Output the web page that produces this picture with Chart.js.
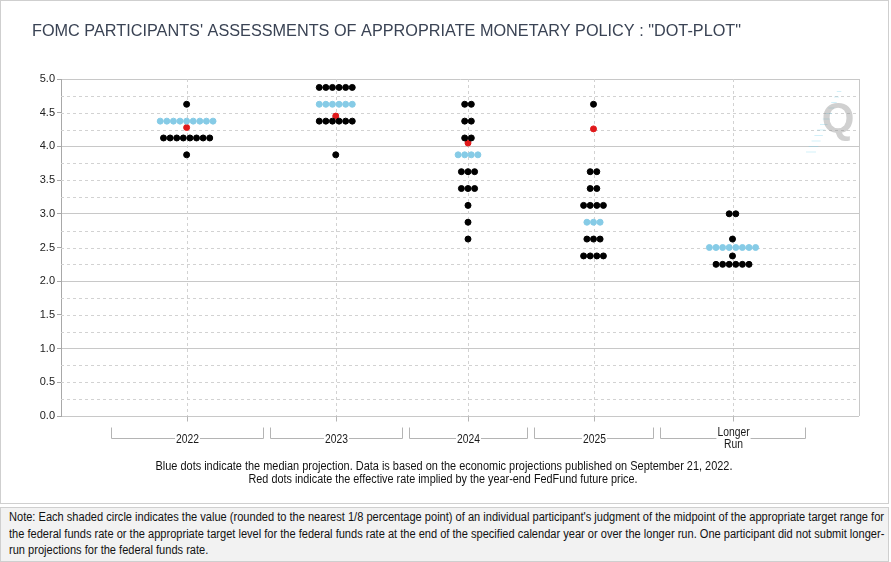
<!DOCTYPE html>
<html>
<head>
<meta charset="utf-8">
<script src="https://cdn.jsdelivr.net/npm/chart.js@4.4.0/dist/chart.umd.min.js"></script>
<style>
  body { margin: 0; background: #fff; width: 891px; height: 562px; overflow: hidden; position: relative; }
  #chart { position: absolute; left: 0; top: 0; }
  #note {
    position: absolute; left: 0; top: 507px; width: 887px; height: 52px;
    background: #f2f2f2; border: 1px solid #cfcfcf;
    font: 12px "Liberation Sans", Arial, sans-serif;
    color: #111; line-height: 16.5px; padding: 1px 0 0 0;
    white-space: nowrap; overflow: hidden;
  }
  #note span { display: block; width: max-content; transform-origin: 0 0; margin-left: 8px; }
</style>
</head>
<body>
<canvas id="chart" width="891" height="505"></canvas>
<div id="note"><span>Note: Each shaded circle indicates the value (rounded to the nearest 1/8 percentage point) of an individual participant's judgment of the midpoint of the appropriate target range for</span><span>the federal funds rate or the appropriate target level for the federal funds rate at the end of the specified calendar year or over the longer run. One participant did not submit longer-</span><span>run projections for the federal funds rate.</span></div>
<script>
// --- data ---
const categories = ['2022', '2023', '2024', '2025', 'Longer Run'];
const rates2022 = [4.625, 4.375, 4.125, 3.875];
const counts2022 = [1, 9, 8, 1];
const rates2023 = [4.875, 4.625, 4.375, 3.875];
const counts2023 = [6, 6, 6, 1];
const rates2024 = [4.625, 4.375, 4.125, 3.875, 3.625, 3.375, 3.125, 2.875, 2.625];
const counts2024 = [2, 2, 2, 4, 3, 3, 1, 1, 1];
const rates2025 = [4.625, 3.625, 3.375, 3.125, 2.875, 2.625, 2.375];
const counts2025 = [1, 2, 2, 4, 3, 3, 4];
const ratesLonger = [3.0, 2.625, 2.5, 2.375, 2.25];
const countsLonger = [2, 1, 8, 1, 6];
const medians = [4.375, 4.625, 3.875, 2.875, 2.5];
const futures = [4.28, 4.45, 4.05, 4.26, null];

const allRates = [rates2022, rates2023, rates2024, rates2025, ratesLonger];
const allCounts = [counts2022, counts2023, counts2024, counts2025, countsLonger];

// layout (x axis runs in plot pixels)
const X_MAX = 798;
const SLOT_START = 46, SLOT_BASE = 98.5, SLOT_STEP = 6.75, DOT_STEP = 6.6;
const SANS = '"Liberation Sans", Arial, sans-serif';

// squeeze the note to the narrow look of the original
const spans = document.querySelectorAll('#note span');
const squeeze = 875 / spans[0].getBoundingClientRect().width;
spans.forEach(s => { s.style.transform = 'scaleX(' + squeeze + ')'; });

// each column gets wider with its longest row of dots
const slots = [];
let pos = SLOT_START;
allCounts.forEach(c => {
  const w = SLOT_BASE + SLOT_STEP * Math.max(...c);
  slots.push({ from: pos, to: pos + w, centre: pos + w / 2 });
  pos += w;
});

const black = [], blue = [], red = [];
allRates.forEach((rates, c) => {
  rates.forEach((r, j) => {
    const n = allCounts[c][j];
    for (let k = 0; k < n; k++) {
      const pt = { x: slots[c].centre + (k - (n - 1) / 2) * DOT_STEP, y: r };
      (r === medians[c] ? blue : black).push(pt);
    }
  });
  if (futures[c] != null) red.push({ x: slots[c].centre, y: futures[c] });
});

const decor = {
  id: 'decor',
  beforeDatasetsDraw(chart) {
    const { ctx, chartArea: a, scales: { x, y } } = chart;
    ctx.save();
    ctx.strokeStyle = '#d2d2d2';
    ctx.lineWidth = 1;
    ctx.setLineDash([3, 3]);
    for (let v = 0.25; v < 5; v += 0.25) {
      if (Number.isInteger(v)) continue;
      const py = Math.round(y.getPixelForValue(v)) + 0.5;
      ctx.beginPath(); ctx.moveTo(a.left, py); ctx.lineTo(a.right, py); ctx.stroke();
    }
    slots.forEach(s => {
      const px = Math.round(x.getPixelForValue(s.centre)) + 0.5;
      ctx.beginPath(); ctx.moveTo(px, a.top); ctx.lineTo(px, a.bottom); ctx.stroke();
    });
    ctx.setLineDash([]);
    ctx.strokeStyle = '#c8c8c8';
    ctx.beginPath();
    ctx.moveTo(Math.round(a.right) + 0.5, a.top);
    ctx.lineTo(Math.round(a.right) + 0.5, a.bottom);
    ctx.stroke();
    ctx.restore();
  },
  afterDraw(chart) {
    const { ctx, chartArea: a, scales: { x } } = chart;
    ctx.save();
    // frame
    ctx.strokeStyle = '#cfcfcf';
    ctx.strokeRect(0.5, 0.5, 888, 503);
    // title
    ctx.fillStyle = '#3a4354';
    ctx.font = '16.3px ' + SANS;
    ctx.textBaseline = 'alphabetic';
    ctx.fillText('FOMC PARTICIPANTS\' ASSESSMENTS OF APPROPRIATE MONETARY POLICY : "DOT-PLOT"', 32, 36, 709);
    // x ticks and brackets
    const base = Math.round(a.bottom) + 0.5;
    ctx.strokeStyle = '#b4b4b4';
    ctx.lineWidth = 1;
    ctx.font = '12px ' + SANS;
    ctx.textAlign = 'center';
    ctx.textBaseline = 'middle';
    slots.forEach((s, i) => {
      const cx = Math.round(x.getPixelForValue(s.centre)) + 0.5;
      ctx.beginPath(); ctx.moveTo(cx, base); ctx.lineTo(cx, base + 5); ctx.stroke();
      const l = Math.round(x.getPixelForValue(s.from + 3.5)) + 0.5;
      const r = Math.round(x.getPixelForValue(s.to - 3.5)) + 0.5;
      const by = base + 22;
      ctx.beginPath();
      ctx.moveTo(l, by - 11); ctx.lineTo(l, by); ctx.lineTo(r, by); ctx.lineTo(r, by - 11);
      ctx.stroke();
      const lines = categories[i].split(' ');
      const tw = Math.max(...lines.map(t => ctx.measureText(t).width)) * 0.86;
      ctx.fillStyle = '#fff';
      ctx.fillRect(cx - tw / 2 - 1, by - 5, tw + 2, 10);
      ctx.fillStyle = '#1a1a1a';
      const fit = t => ctx.measureText(t).width * 0.86;
      if (lines.length === 1) {
        ctx.fillText(lines[0], cx, by + 1, fit(lines[0]));
      } else {
        ctx.fillText(lines[0], cx, by - 6, fit(lines[0]));
        ctx.fillText(lines[1], cx, by + 6, fit(lines[1]));
      }
    });
    // captions
    ctx.fillStyle = '#111';
    ctx.fillText('Blue dots indicate the median projection. Data is based on the economic projections published on September 21, 2022.', 444, 467, 577);
    ctx.fillText('Red dots indicate the effective rate implied by the year-end FedFund future price.', 443, 480, 389);
    // watermark
    ctx.globalAlpha = 0.35;
    ctx.strokeStyle = '#7fd3ee';
    for (let k = 0; k < 12; k++) {
      const yy = 152 - k * 5.5, xx = 806 + k * 2.8;
      ctx.beginPath(); ctx.moveTo(xx, yy); ctx.lineTo(xx + 10 - k * 0.5, yy); ctx.stroke();
    }
    ctx.globalAlpha = 0.4;
    ctx.fillStyle = '#8a8a8a';
    ctx.font = 'bold 42px ' + SANS;
    ctx.textAlign = 'center';
    ctx.fillText('Q', 838, 120);
    ctx.restore();
  }
};

const dot = (data, colour) => ({
  data,
  backgroundColor: colour,
  borderColor: colour,
  borderWidth: 1,
  pointRadius: 3,
  pointHoverRadius: 3
});

new Chart(document.getElementById('chart'), {
  type: 'scatter',
  data: { datasets: [dot(black, '#000'), dot(blue, '#86cbe6'), dot(red, '#e0191b')] },
  plugins: [decor],
  options: {
    responsive: false,
    animation: false,
    layout: { padding: { top: 79, right: 32, bottom: 89, left: 0 } },
    plugins: { legend: { display: false }, tooltip: { enabled: false } },
    scales: {
      x: { type: 'linear', min: 0, max: X_MAX, display: false },
      y: {
        min: 0, max: 5,
        afterFit: s => { s.width = 61; },
        afterBuildTicks: s => {
          s.ticks = [];
          for (let v = 0; v <= 5; v += 0.25) s.ticks.push({ value: v });
        },
        ticks: {
          autoSkip: false,
          padding: 2,
          color: '#222',
          font: { family: SANS, size: 11 },
          callback: v => (Number.isInteger(v * 2) ? v.toFixed(1) : '')
        },
        grid: {
          color: c => (Number.isInteger(c.tick.value) ? '#c8c8c8' : 'transparent'),
          tickColor: c => (Number.isInteger(c.tick.value * 2) ? '#a8a8a8' : 'transparent'),
          tickLength: 4
        },
        border: { color: '#a8a8a8' }
      }
    }
  }
});
</script>
</body>
</html>
